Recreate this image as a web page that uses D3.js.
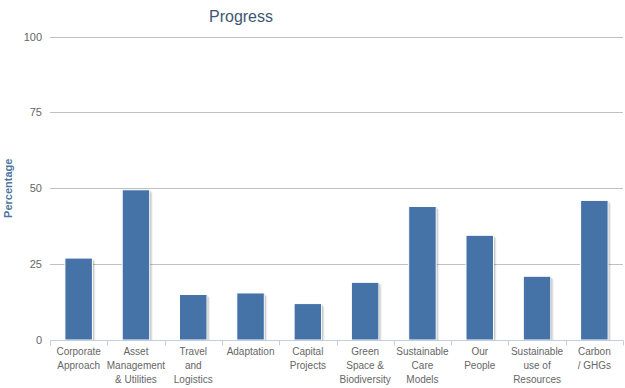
<!DOCTYPE html>
<html>
<head>
<meta charset="utf-8">
<script src="https://cdn.jsdelivr.net/npm/d3@7"></script>
<style>
  html, body { margin: 0; padding: 0; background: #fff; }
  svg { display: block; font-family: "Liberation Sans", "Noto Sans", sans-serif; }
</style>
</head>
<body>
<svg id="chart" width="625" height="388"></svg>
<script>
// Progress per workstream (percent complete)
const categories = [
  ["Corporate", "Approach"],
  ["Asset", "Management", "& Utilities"],
  ["Travel", "and", "Logistics"],
  ["Adaptation"],
  ["Capital", "Projects"],
  ["Green", "Space &", "Biodiversity"],
  ["Sustainable", "Care", "Models"],
  ["Our", "People"],
  ["Sustainable", "use of", "Resources"],
  ["Carbon", "/ GHGs"]
];
const values = [27, 49.5, 15, 15.5, 12, 19, 44, 34.5, 21, 46];
const yTicks = [0, 25, 50, 75, 100];

const svg = d3.select("#chart");
const margin = { left: 50, right: 2, top: 36.5, bottom: 48 };
const W = 625, H = 388;
const plotW = W - margin.left - margin.right;
const plotH = H - margin.top - margin.bottom;

const x = d3.scaleBand()
  .domain(d3.range(categories.length))
  .range([margin.left, margin.left + plotW])
  .paddingInner(0).paddingOuter(0);

const y = d3.scaleLinear().domain([0, 100]).range([margin.top + plotH, margin.top]);

// Title
svg.append("text")
  .attr("x", 241).attr("y", 22)
  .attr("text-anchor", "middle")
  .attr("fill", "#3E576F")
  .style("font-size", "16px")
  .text("Progress");

// Horizontal grid
svg.append("g").selectAll("line")
  .data(yTicks.filter(d => d > 0))
  .join("line")
  .attr("x1", margin.left).attr("x2", margin.left + plotW)
  .attr("y1", d => Math.round(y(d)) + 0.5).attr("y2", d => Math.round(y(d)) + 0.5)
  .attr("stroke", "#C0C0C0").attr("stroke-width", 1);

// Y axis labels
const yAxis = d3.axisLeft(y).tickValues(yTicks).tickSize(0).tickPadding(8);
const gy = svg.append("g").attr("transform", `translate(${margin.left},0)`).call(yAxis);
gy.select(".domain").remove();
gy.selectAll("text").attr("fill", "#666").style("font-size", "11px")
  .style("font-family", "'Liberation Sans', sans-serif").attr("dy", "0.32em");

// Y axis title
svg.append("text")
  .attr("transform", `translate(12,${y(50)}) rotate(-90)`)
  .attr("text-anchor", "middle")
  .attr("fill", "#4D759E")
  .style("font-size", "11px").style("font-weight", "bold")
  .text("Percentage");

// Bars
const bw = x.bandwidth() * 0.6 * 0.8;
const bars = svg.append("g");
const bx = i => x(i) + (x.bandwidth() - bw) / 2;

// soft shadow behind each bar
[[3, 0.05], [2, 0.1], [1, 0.15]].forEach(([o, a]) => {
  bars.append("g").selectAll("rect")
    .data(values)
    .join("rect")
    .attr("x", (d, i) => bx(i) + o)
    .attr("y", d => y(d) + o)
    .attr("width", bw)
    .attr("height", d => y(0) - y(d) - o)
    .attr("fill", "#000").attr("opacity", a);
});

bars.append("g").selectAll("rect")
  .data(values)
  .join("rect")
  .attr("x", (d, i) => bx(i))
  .attr("y", d => y(d))
  .attr("width", bw)
  .attr("height", d => y(0) - y(d))
  .attr("fill", "#4572A7")
  .attr("stroke", "#fff").attr("stroke-width", 1);

// X axis line and ticks between categories
const baseY = Math.round(y(0)) + 0.5;
svg.append("line")
  .attr("x1", margin.left).attr("x2", margin.left + plotW)
  .attr("y1", baseY).attr("y2", baseY)
  .attr("stroke", "#C0D0E0").attr("stroke-width", 1);

svg.append("g").selectAll("line")
  .data(d3.range(categories.length + 1))
  .join("line")
  .attr("x1", i => Math.round(margin.left + i * x.bandwidth()) + 0.5)
  .attr("x2", i => Math.round(margin.left + i * x.bandwidth()) + 0.5)
  .attr("y1", baseY).attr("y2", baseY + 5)
  .attr("stroke", "#C0D0E0");

// Category labels (multi-line)
const labels = svg.append("g").selectAll("text")
  .data(categories)
  .join("text")
  .attr("text-anchor", "middle")
  .attr("fill", "#666")
  .style("font-size", "10px");
labels.each(function(lines, i) {
  const t = d3.select(this);
  lines.forEach((ln, k) => {
    t.append("tspan")
      .attr("x", x(i) + x.bandwidth() / 2)
      .attr("y", 355 + k * 14)
      .text(ln);
  });
});
</script>
</body>
</html>
